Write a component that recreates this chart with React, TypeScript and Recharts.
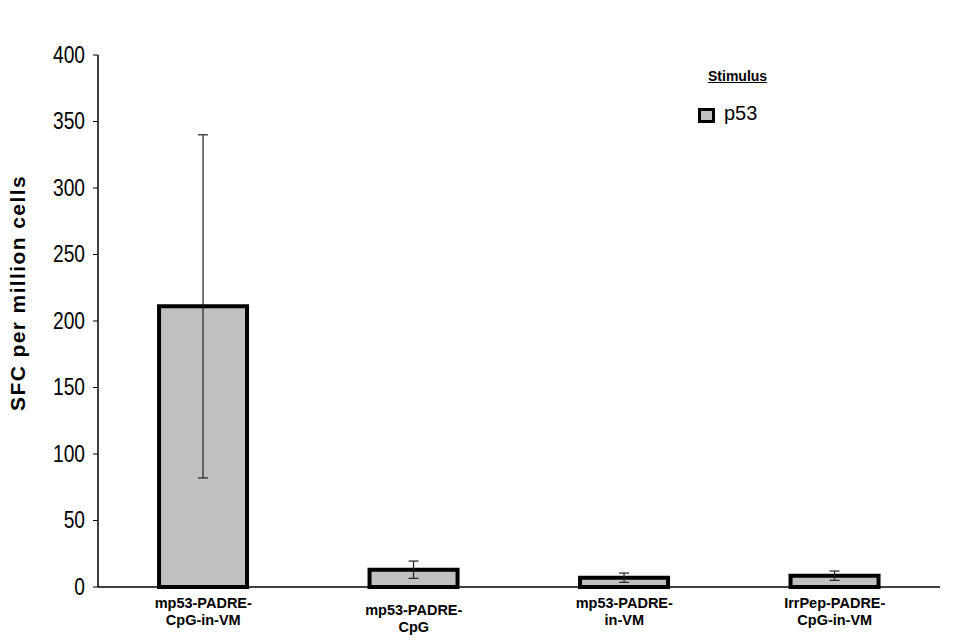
import React from 'react'
import { BarChart, Bar, XAxis, YAxis, ErrorBar, Label } from 'recharts'

// groups on the x axis, each label split over two lines
const groups = ['mp53-PADRE-|CpG-in-VM', 'mp53-PADRE-|CpG', 'mp53-PADRE-|in-VM', 'IrrPep-PADRE-|CpG-in-VM']
// SFC per million cells, p53 stimulus
const p53Values = [211, 13, 7, 8.5]
const p53Errors = [129, 6.5, 3.5, 3.5]
const yTicks = [0, 50, 100, 150, 200, 250, 300, 350, 400]

const data = groups.map((g, i) => ({ group: g, p53: p53Values[i], err: p53Errors[i] }))

const arial = "Arial, 'Liberation Sans', sans-serif"

function GroupTick(props: any) {
  const { x, y, payload, index } = props
  const lines = String(payload.value).split('|')
  const shift = index === 1 ? 7 : 0
  return (
    <text x={x} y={y + shift} textAnchor="middle" fontFamily={arial} fontWeight="bold" fontSize={14.5} fill="#000">
      {lines.map((l, i) => (
        <tspan key={i} x={x} dy={i === 0 ? 13 : 17}>{l}</tspan>
      ))}
    </text>
  )
}

// narrow looking tick numbers, like the Excel original
function ValueTick(props: any) {
  const { x, y, payload } = props
  const tx = x - 6
  return (
    <text
      x={tx}
      y={y + 8}
      textAnchor="end"
      fontFamily={arial}
      fontSize={24}
      fill="#000"
      transform={`translate(${tx} 0) scale(0.8 1) translate(${-tx} 0)`}
    >
      {payload.value}
    </text>
  )
}

// axis title sits a bit above the plot's middle in the original
function YTitle(props: any) {
  const cx = 25
  const cy = 293
  return (
    <text
      x={cx}
      y={cy}
      transform={`rotate(-90 ${cx} ${cy})`}
      textAnchor="middle"
      fontFamily={arial}
      fontWeight="bold"
      fontSize={21}
      letterSpacing={1.4}
      fill="#000"
    >
      SFC per million cells
    </text>
  )
}

export default function App() {
  return (
    <div style={{ position: 'absolute', left: 0, top: 0, width: 960, height: 644, background: '#fff' }}>
      <BarChart
        width={960}
        height={644}
        data={data}
        margin={{ top: 55, right: 20, bottom: 0, left: 0 }}
        barCategoryGap="29%"
      >
        <XAxis
          dataKey="group"
          height={57}
          axisLine={{ stroke: '#000', strokeWidth: 1.5 }}
          tickLine={false}
          tick={<GroupTick />}
          interval={0}
        />
        <YAxis
          width={98}
          domain={[0, 400]}
          ticks={yTicks}
          interval={0}
          axisLine={{ stroke: '#000', strokeWidth: 1.5 }}
          tickLine={{ stroke: '#000' }}
          tickSize={5}
          tick={<ValueTick />}
        >
          <Label content={<YTitle />} />
        </YAxis>
        <Bar dataKey="p53" fill="#c0c0c0" stroke="#000" strokeWidth={4} isAnimationActive={false}>
          <ErrorBar dataKey="err" width={5} stroke="#222" strokeWidth={1.2} />
        </Bar>
      </BarChart>
      <div
        style={{
          position: 'absolute', left: 708, top: 68, fontFamily: arial,
          fontWeight: 'bold', fontSize: 14, textDecoration: 'underline', color: '#000',
        }}
      >
        Stimulus
      </div>
      <div
        style={{
          position: 'absolute', left: 698, top: 108, width: 11, height: 9,
          background: '#c0c0c0', border: '3px solid #000',
        }}
      />
      <div style={{ position: 'absolute', left: 724, top: 102, fontFamily: arial, fontSize: 20, color: '#000' }}>
        p53
      </div>
    </div>
  )
}
